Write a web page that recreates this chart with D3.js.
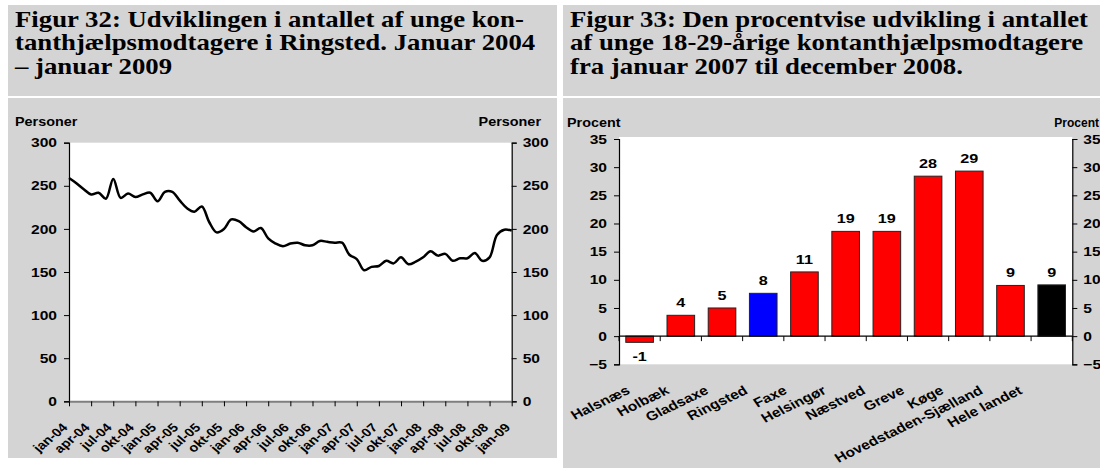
<!DOCTYPE html>
<html>
<head>
<meta charset="utf-8">
<script src="https://cdn.jsdelivr.net/npm/d3@7"></script>
<style>
  body { margin: 0; background: #fff; }
  svg { display: block; }
  .tick text { font-family: "Liberation Sans", Arial, sans-serif; font-weight: bold; }
</style>
</head>
<body>
<svg id="chart" width="1100" height="468"></svg>
<script>
// ---- data: figur 32 (monthly, jan-04 .. jan-09)
const monthNames = ["jan", "feb", "mar", "apr", "maj", "jun", "jul", "aug", "sep", "okt", "nov", "dec"];
const months = [];
for (let yr = 4; yr <= 9; yr++) {
  for (let m = 0; m < 12; m++) {
    if (yr === 9 && m > 0) break;
    months.push(monthNames[m] + "-0" + yr);
  }
}
const persons = [
  259, 253, 246, 240, 242, 235, 258, 236, 241, 237, 240, 242,
  232, 243, 243, 233, 224, 220, 226, 208, 196, 200, 211, 209,
  202, 197, 201, 189, 183, 180, 183, 184, 181, 181, 186, 185,
  184, 184, 170, 165, 152, 156, 157, 163, 160, 167, 159, 162,
  167, 174, 169, 171, 163, 166, 166, 172, 163, 167, 193, 199,
  198
];
const personTicks = [0, 50, 100, 150, 200, 250, 300];

// ---- data: figur 33
const kommuner = ["Halsnæs", "Holbæk", "Gladsaxe", "Ringsted", "Faxe", "Helsingør",
  "Næstved", "Greve", "Køge", "Hovedstaden-Sjælland", "Hele landet"];
const procent = [-1.1, 3.7, 5.0, 7.6, 11.4, 18.6, 18.6, 28.4, 29.3, 9.0, 9.1];
const procentTicks = [-5, 0, 5, 10, 15, 20, 25, 30, 35];

const titleLeft = ["Figur 32: Udviklingen i antallet af unge kon-",
  "tanthjælpsmodtagere i Ringsted. Januar 2004", "– januar 2009"];
const titleRight = ["Figur 33: Den procentvise udvikling i antallet",
  "af unge 18-29-årige kontanthjælpsmodtagere", "fra januar 2007 til december 2008."];

const svg = d3.select("#chart");
const grey = "#d4d4d4";
const sans = "'Liberation Sans', Arial, sans-serif";
const serif = "'Liberation Serif', 'Times New Roman', serif";
const SX = 1.2; // the source is a bit wide: stretch text horizontally

function stretch(sel, sx = SX) {
  sel.each(function() {
    const t = d3.select(this);
    const x = +t.attr("x") || 0;
    t.attr("x", x / sx).attr("transform", `scale(${sx},1)`);
  });
}

// panels
function panel(x, w, chartH, lines) {
  svg.append("rect").attr("x", x).attr("y", 5).attr("width", w).attr("height", 91).attr("fill", grey);
  svg.append("rect").attr("x", x).attr("y", 98).attr("width", w).attr("height", chartH).attr("fill", grey);
  svg.append("g").selectAll("text").data(lines).join("text")
    .attr("x", x + 7)
    .attr("y", (d, i) => 27 + i * 23.5)
    .attr("font-family", serif)
    .attr("font-weight", "bold")
    .attr("font-size", "22.5px")
    .text(d => d)
    .call(stretch, 1.19);
}
panel(8, 549, 360, titleLeft);
panel(563, 537, 370, titleRight);

function label(x, y, txt, anchor, sx) {
  svg.append("text").attr("x", x).attr("y", y).attr("text-anchor", anchor || "start")
    .attr("font-family", sans).attr("font-weight", "bold").attr("font-size", "12px")
    .text(txt)
    .call(stretch, sx || SX);
}

// ---------- Figur 32 ----------
(function drawLine() {
  const x = d3.scalePoint().domain(months).range([69, 511.7]);
  const y = d3.scaleLinear().domain([0, 300]).range([401.3, 142.7]);

  svg.append("rect")
    .attr("x", 69).attr("y", y(300))
    .attr("width", 511.7 - 69).attr("height", y(0) - y(300))
    .attr("fill", "#fff");

  const yl = svg.append("g").attr("transform", "translate(69,0)")
    .call(d3.axisLeft(y).tickValues(personTicks).tickSize(5).tickPadding(7));
  const yr = svg.append("g").attr("transform", "translate(511.7,0)")
    .call(d3.axisRight(y).tickValues(personTicks).tickSize(5).tickPadding(6));
  [yl, yr].forEach(a => {
    a.select(".domain").attr("stroke", "#000").attr("stroke-width", 1.2);
    a.selectAll(".tick text").attr("font-size", "13px").attr("fill", "#000").call(stretch);
  });

  const xa = svg.append("g").attr("transform", `translate(0,${y(0)})`)
    .call(d3.axisBottom(x).tickValues(months.filter((m, i) => i % 3 === 0)).tickSize(5).tickSizeOuter(0));
  xa.select(".domain").attr("stroke", "#7f7f7f").attr("stroke-width", 2);
  xa.selectAll(".tick line").attr("stroke", "#000");
  xa.selectAll(".tick text")
    .attr("font-size", "12px")
    .attr("fill", "#000")
    .attr("text-anchor", "end")
    .attr("x", 0).attr("y", 0).attr("dy", 0)
    .attr("transform", `translate(-1,27) scale(${SX},1) rotate(-45)`);

  const line = d3.line()
    .x((d, i) => x(months[i]))
    .y(d => y(d))
    .curve(d3.curveCatmullRom.alpha(0.5));

  svg.append("path")
    .datum(persons)
    .attr("d", line)
    .attr("fill", "none")
    .attr("stroke", "#000")
    .attr("stroke-width", 2.5);

  label(15, 126, "Personer");
  label(541, 126, "Personer", "end");
})();

// ---------- Figur 33 ----------
(function drawBars() {
  const x0 = 619, x1 = 1072.3;
  const x = d3.scaleBand().domain(kommuner).range([x0, x1]).paddingInner(0.33).paddingOuter(0.165);
  const y = d3.scaleLinear().domain([-5, 35]).range([364.3, 139]);
  const barColor = k => k === "Ringsted" ? "#0000ff" : (k === "Hele landet" ? "#000000" : "#ff0000");

  svg.append("rect")
    .attr("x", x0).attr("y", y(35) - 2)
    .attr("width", x1 - x0).attr("height", y(-5) - y(35) + 2)
    .attr("fill", "#fff");

  const yl = svg.append("g").attr("transform", `translate(${x0},0)`)
    .call(d3.axisLeft(y).tickValues(procentTicks).tickSize(5).tickPadding(7));
  const yr = svg.append("g").attr("transform", `translate(${x1},0)`)
    .call(d3.axisRight(y).tickValues(procentTicks).tickSize(5).tickPadding(6));
  [yl, yr].forEach(a => {
    a.select(".domain").attr("stroke", "#000").attr("stroke-width", 1.2);
    a.selectAll(".tick text").attr("font-size", "13px").attr("fill", "#000").call(stretch);
  });

  svg.append("g").selectAll("rect").data(kommuner).join("rect")
    .attr("x", d => x(d))
    .attr("y", (d, i) => y(Math.max(0, procent[i])))
    .attr("width", x.bandwidth())
    .attr("height", (d, i) => Math.abs(y(procent[i]) - y(0)))
    .attr("fill", barColor)
    .attr("stroke", "#222")
    .attr("stroke-width", 1);

  // zero axis with ticks at category boundaries
  svg.append("line")
    .attr("x1", x0).attr("x2", x1).attr("y1", y(0)).attr("y2", y(0))
    .attr("stroke", "#000").attr("stroke-width", 1.2);
  const edges = kommuner.map(k => x(k) - x.step() * x.paddingInner() / 2).concat([x1]);
  svg.append("g").selectAll("line").data(edges).join("line")
    .attr("x1", d => d).attr("x2", d => d)
    .attr("y1", y(0)).attr("y2", y(0) + 5)
    .attr("stroke", "#000");

  svg.append("g").selectAll("text").data(kommuner).join("text")
    .attr("x", d => x(d) + x.bandwidth() / 2)
    .attr("y", (d, i) => procent[i] >= 0 ? y(procent[i]) - 8 : y(procent[i]) + 19)
    .attr("text-anchor", "middle")
    .attr("font-family", sans).attr("font-weight", "bold").attr("font-size", "13.5px")
    .text((d, i) => Math.round(procent[i]))
    .call(stretch);

  // rotated category labels
  const lx = d3.scalePoint().domain(kommuner).range([x0 + 12, x1 - 49]);
  svg.append("g").selectAll("text").data(kommuner).join("text")
    .attr("transform", d => `translate(${lx(d)},393) scale(${SX},1) rotate(-30)`)
    .attr("text-anchor", "end")
    .attr("font-family", sans).attr("font-weight", "bold").attr("font-size", "13px")
    .text(d => d);

  label(567, 127, "Procent");
  label(1099, 127, "Procent", "end", 1.0);
})();
</script>
</body>
</html>
